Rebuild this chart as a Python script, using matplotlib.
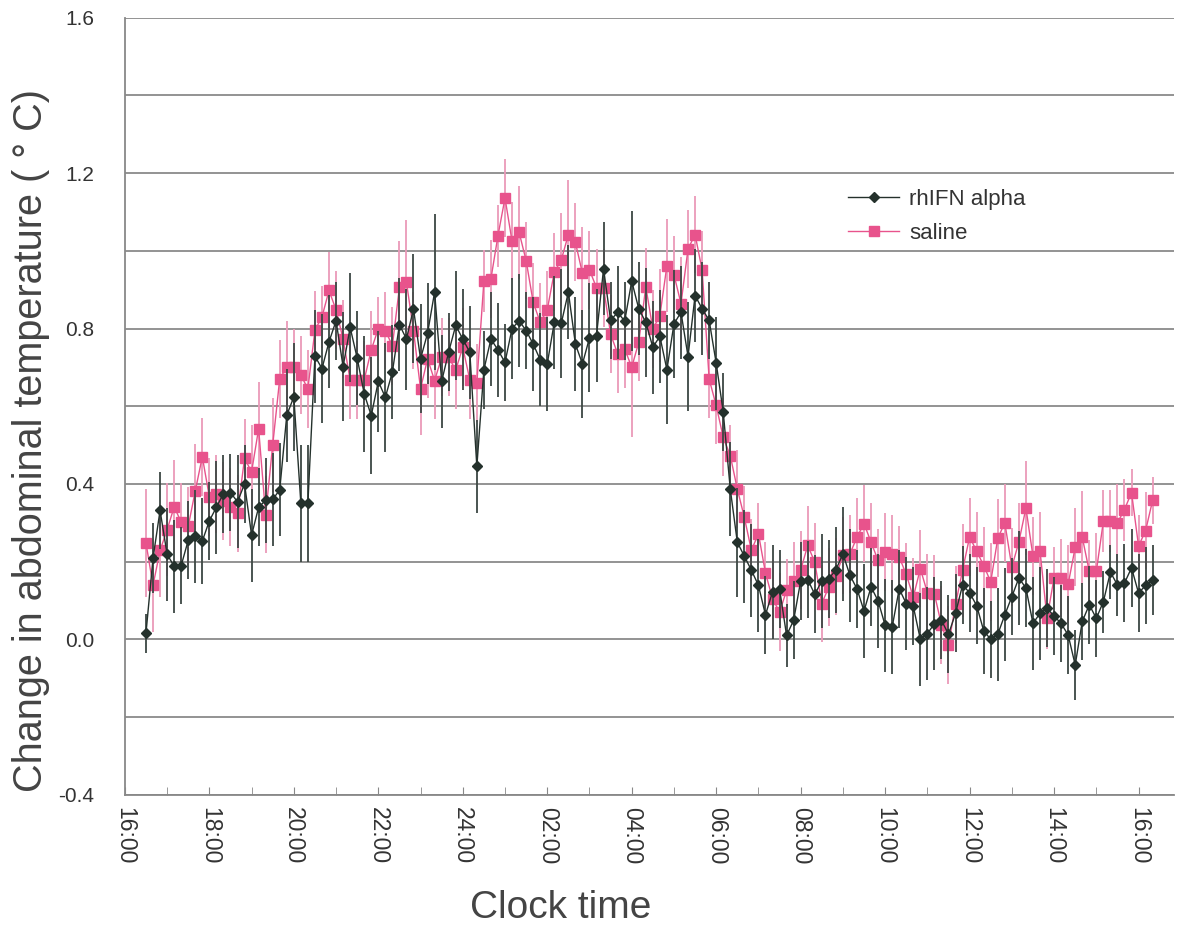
import numpy as np
import matplotlib
matplotlib.use("Agg")
import matplotlib.pyplot as plt
from matplotlib.lines import Line2D
from matplotlib.ticker import MultipleLocator, FuncFormatter

plt.rcParams['font.family'] = ['Liberation Sans', 'DejaVu Sans']

# 10-min samples starting 16:30, hours since midnight of day 1
start_hour = 16.5
step_hour = 1 / 6

ifn = [0.016, 0.209, 0.332, 0.219, 0.188, 0.19, 0.255, 0.265, 0.253, 0.305,
       0.34, 0.375, 0.378, 0.354, 0.40, 0.268, 0.34, 0.358, 0.36, 0.385,
       0.577, 0.624, 0.35, 0.35, 0.729, 0.697, 0.766, 0.82, 0.702, 0.803,
       0.724, 0.632, 0.576, 0.664, 0.623, 0.688, 0.81, 0.773, 0.851, 0.722,
       0.788, 0.894, 0.664, 0.74, 0.808, 0.773, 0.739, 0.445, 0.694, 0.773,
       0.745, 0.713, 0.80, 0.82, 0.795, 0.76, 0.72, 0.709, 0.816, 0.814,
       0.894, 0.76, 0.709, 0.776, 0.782, 0.954, 0.821, 0.842, 0.819, 0.922,
       0.851, 0.816, 0.752, 0.78, 0.694, 0.812, 0.842, 0.728, 0.885, 0.851,
       0.821, 0.711, 0.585, 0.387, 0.25, 0.214, 0.178, 0.139, 0.063, 0.122,
       0.13, 0.01, 0.049, 0.15, 0.154, 0.116, 0.15, 0.156, 0.179, 0.22,
       0.165, 0.13, 0.073, 0.135, 0.099, 0.036, 0.032, 0.13, 0.092, 0.085,
       0.0, 0.015, 0.04, 0.049, 0.013, 0.067, 0.14, 0.12, 0.087, 0.022,
       0.0, 0.013, 0.063, 0.11, 0.158, 0.132, 0.041, 0.067, 0.08, 0.06,
       0.041, 0.011, -0.066, 0.046, 0.089, 0.054, 0.097, 0.173, 0.14, 0.145,
       0.184, 0.119, 0.139, 0.153]

ifn_err = [0.05, 0.09, 0.1, 0.12, 0.12, 0.1, 0.1, 0.12, 0.11, 0.1,
           0.12, 0.1, 0.1, 0.12, 0.1, 0.12, 0.1, 0.11, 0.12, 0.12,
           0.12, 0.14, 0.15, 0.15, 0.12, 0.14, 0.12, 0.1, 0.14, 0.14,
           0.12, 0.15, 0.15, 0.13, 0.14, 0.12, 0.12, 0.13, 0.14, 0.14,
           0.13, 0.2, 0.12, 0.1, 0.14, 0.13, 0.12, 0.12, 0.1, 0.12,
           0.12, 0.1, 0.13, 0.12, 0.1, 0.12, 0.12, 0.12, 0.12, 0.14,
           0.12, 0.12, 0.14, 0.14, 0.12, 0.12, 0.1, 0.12, 0.1, 0.18,
           0.12, 0.14, 0.12, 0.12, 0.14, 0.14, 0.12, 0.14, 0.12, 0.12,
           0.1, 0.12, 0.1, 0.12, 0.14, 0.12, 0.12, 0.12, 0.1, 0.12,
           0.1, 0.08, 0.1, 0.1, 0.1, 0.1, 0.12, 0.1, 0.11, 0.12,
           0.12, 0.1, 0.12, 0.1, 0.12, 0.12, 0.12, 0.1, 0.12, 0.1,
           0.12, 0.12, 0.12, 0.1, 0.1, 0.1, 0.1, 0.1, 0.1, 0.11,
           0.1, 0.12, 0.12, 0.1, 0.12, 0.1, 0.12, 0.12, 0.1, 0.1,
           0.1, 0.1, 0.09, 0.1, 0.1, 0.1, 0.08, 0.07, 0.08, 0.1,
           0.1, 0.1, 0.1, 0.09]

saline = [0.248, 0.139, 0.229, 0.282, 0.341, 0.302, 0.291, 0.382, 0.47, 0.367,
          0.375, 0.356, 0.341, 0.324, 0.466, 0.431, 0.542, 0.321, 0.50, 0.671,
          0.70, 0.70, 0.68, 0.645, 0.796, 0.83, 0.898, 0.848, 0.773, 0.668,
          0.668, 0.668, 0.745, 0.80, 0.795, 0.756, 0.906, 0.919, 0.795, 0.645,
          0.722, 0.666, 0.726, 0.726, 0.693, 0.752, 0.668, 0.659, 0.922, 0.928,
          1.039, 1.136, 1.025, 1.048, 0.975, 0.868, 0.816, 0.848, 0.945, 0.977,
          1.042, 1.022, 0.942, 0.951, 0.905, 0.905, 0.786, 0.735, 0.748, 0.70,
          0.765, 0.908, 0.799, 0.833, 0.962, 0.939, 0.864, 1.005, 1.042, 0.951,
          0.67, 0.602, 0.52, 0.473, 0.387, 0.314, 0.229, 0.272, 0.171, 0.105,
          0.07, 0.126, 0.15, 0.178, 0.242, 0.199, 0.092, 0.135, 0.162, 0.216,
          0.22, 0.263, 0.298, 0.25, 0.203, 0.225, 0.22, 0.212, 0.167, 0.109,
          0.182, 0.12, 0.117, 0.037, -0.015, 0.09, 0.178, 0.264, 0.227, 0.19,
          0.148, 0.26, 0.30, 0.186, 0.251, 0.338, 0.214, 0.228, 0.054, 0.159,
          0.158, 0.142, 0.237, 0.263, 0.175, 0.175, 0.304, 0.304, 0.30, 0.334,
          0.378, 0.24, 0.28, 0.358]

saline_err = [0.14, 0.12, 0.12, 0.12, 0.12, 0.1, 0.1, 0.12, 0.1, 0.1,
              0.1, 0.1, 0.1, 0.1, 0.1, 0.12, 0.12, 0.1, 0.12, 0.1,
              0.12, 0.1, 0.1, 0.1, 0.1, 0.08, 0.1, 0.1, 0.1, 0.1,
              0.1, 0.1, 0.1, 0.08, 0.1, 0.1, 0.12, 0.16, 0.1, 0.12,
              0.1, 0.1, 0.1, 0.1, 0.1, 0.1, 0.1, 0.1, 0.08, 0.1,
              0.08, 0.1, 0.1, 0.12, 0.1, 0.1, 0.1, 0.1, 0.1, 0.12,
              0.14, 0.1, 0.12, 0.1, 0.1, 0.1, 0.1, 0.1, 0.1, 0.18,
              0.1, 0.1, 0.1, 0.12, 0.12, 0.1, 0.12, 0.1, 0.1, 0.1,
              0.1, 0.1, 0.1, 0.08, 0.1, 0.08, 0.08, 0.08, 0.08, 0.1,
              0.1, 0.08, 0.1, 0.1, 0.1, 0.1, 0.1, 0.1, 0.1, 0.1,
              0.1, 0.1, 0.1, 0.1, 0.08, 0.1, 0.1, 0.08, 0.08, 0.1,
              0.1, 0.1, 0.1, 0.1, 0.1, 0.1, 0.12, 0.1, 0.1, 0.1,
              0.1, 0.1, 0.1, 0.1, 0.1, 0.12, 0.1, 0.1, 0.08, 0.08,
              0.1, 0.1, 0.1, 0.12, 0.08, 0.1, 0.08, 0.08, 0.1, 0.08,
              0.06, 0.08, 0.1, 0.06]

tick_hours = list(range(16, 41, 2))
tick_labels = ["16:00", "18:00", "20:00", "22:00", "24:00", "02:00", "04:00",
               "06:00", "08:00", "10:00", "12:00", "14:00", "16:00"]

t = start_hour + np.arange(len(ifn)) * step_hour

fig = plt.figure(figsize=(11.78, 9.35), dpi=100)
ax = fig.add_axes([0.106, 0.150, 0.891, 0.831])

black = "#24312c"
pink = "#e8538c"

ax.errorbar(t, ifn, yerr=ifn_err, color=black, ecolor="#3c4743",
            elinewidth=1.3, lw=1.0, marker="D", ms=5.5, capsize=0, zorder=3)
ax.errorbar(t, saline, yerr=saline_err, color=pink, ecolor="#eb9ab9",
            elinewidth=1.3, lw=1.0, marker="s", ms=7.5, capsize=0, zorder=2)

ax.set_xlim(16, 40.85)
ax.set_ylim(-0.4, 1.6)

ax.yaxis.set_major_locator(MultipleLocator(0.4))
ax.yaxis.set_minor_locator(MultipleLocator(0.2))
ax.yaxis.set_major_formatter(FuncFormatter(lambda v, p: f"{v:.1f}"))
ax.grid(axis="y", which="both", color="#8a8a8a", lw=1.3)
ax.set_axisbelow(True)
ax.tick_params(axis="y", which="both", length=0, labelsize=15, pad=22,
               labelcolor="#333333")

ax.set_xticks(tick_hours)
ax.set_xticklabels(tick_labels, rotation=-90, fontsize=16.5, color="#333333")
ax.xaxis.set_minor_locator(MultipleLocator(1))
ax.tick_params(axis="x", which="both", direction="in", length=6,
               color="#888888", pad=9)

for s in ["top", "right"]:
    ax.spines[s].set_visible(False)
for s in ["left", "bottom"]:
    ax.spines[s].set_color("#888888")
    ax.spines[s].set_linewidth(1.3)

fig.text(0.026, 0.529, "Change in abdominal temperature ( ° C)", rotation=90,
         fontsize=28.5, color="#444444", ha="center", va="center")
fig.text(0.476, 0.029, "Clock time", fontsize=28, color="#444444",
         ha="center", va="center")

handles = [Line2D([], [], color=black, lw=1.0, marker="D", ms=5.5),
           Line2D([], [], color=pink, lw=1.0, marker="s", ms=7)]
ax.legend(handles, ["rhIFN alpha", "saline"], loc="upper left",
          bbox_to_anchor=(0.670, 0.806), frameon=False, fontsize=16,
          handlelength=2.3, labelspacing=0.6, handletextpad=0.45,
          labelcolor="#333333")

fig.savefig("out.png", dpi=100)
